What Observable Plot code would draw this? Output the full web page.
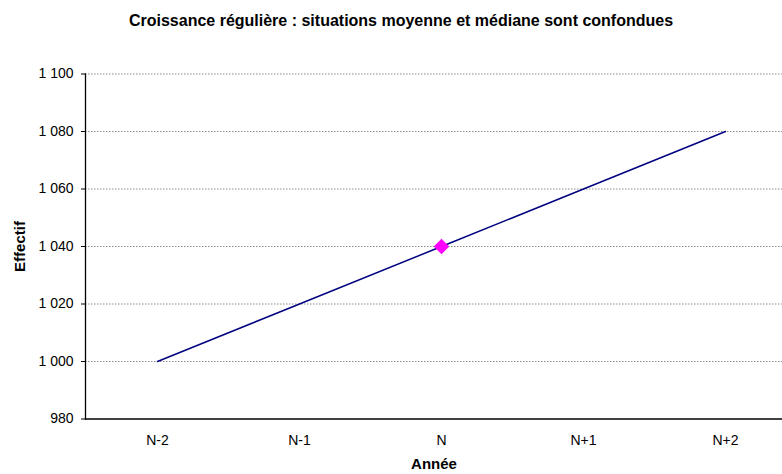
<!DOCTYPE html>
<html>
<head>
<meta charset="utf-8">
<script src="https://cdn.jsdelivr.net/npm/d3@7"></script>
<script src="https://cdn.jsdelivr.net/npm/@observablehq/plot@0.6"></script>
<style>
  html, body { margin: 0; padding: 0; background: #fff; }
  #wrap { position: relative; width: 782px; height: 474px; font-family: "Liberation Sans", Arial, sans-serif; }
  #title { position: absolute; left: 401px; top: 12px; transform: translateX(-50%); white-space: nowrap;
           font-weight: bold; font-size: 16px; color: #000; }
  #chart { position: absolute; left: 0; top: 0; }
</style>
</head>
<body>
<div id="wrap">
  <div id="title">Croissance régulière : situations moyenne et médiane sont confondues</div>
  <div id="chart"></div>
</div>
<script>
const years = ["N-2", "N-1", "N", "N+1", "N+2"];
const effectif = [1000, 1020, 1040, 1060, 1080];
const highlightYear = ["N"];
const highlightValue = [1040];
const yTicks = [980, 1000, 1020, 1040, 1060, 1080, 1100];
const gridTicks = [1000, 1020, 1040, 1060, 1080, 1100];

const series = years.map((y, i) => ({annee: y, effectif: effectif[i]}));
const highlight = highlightYear.map((y, i) => ({annee: y, effectif: highlightValue[i]}));
const fmt = d => d3.format(",")(d).replace(/,/g, "\u00a0");

const chart = Plot.plot({
  width: 782,
  height: 474,
  marginLeft: 85,
  marginRight: 0,
  marginTop: 73.5,
  marginBottom: 55.5,
  style: {fontFamily: '"Liberation Sans", Arial, sans-serif', fontSize: "14px", color: "#000", background: "transparent"},
  x: {type: "point", domain: years, range: [156, 725], padding: 0},
  y: {domain: [980, 1100]},
  marks: [
    Plot.ruleY(gridTicks, {stroke: "#8c8c8c", strokeDasharray: "1.5,1.5", strokeWidth: 1}),
    Plot.frame({anchor: "left", stroke: "#000", strokeWidth: 1.3}),
    Plot.frame({anchor: "bottom", stroke: "#000", strokeWidth: 1.3}),
    Plot.axisY({ticks: yTicks, tickFormat: fmt, tickSize: 4, tickPadding: 8, stroke: "#000",
      label: "Effectif", labelAnchor: "center", labelOffset: 71, labelArrow: "none", fontSize: 14}),
    Plot.axisX({tickSize: 0, tickPadding: 16, label: "Année", labelAnchor: "center", labelOffset: 50,
      labelArrow: "none", fontSize: 14}),
    Plot.line(series, {x: "annee", y: "effectif", stroke: "#000080", strokeWidth: 1.5}),
    Plot.dot(highlight, {x: "annee", y: "effectif", symbol: "diamond2", r: 7, fill: "#ff00ff", stroke: "none"})
  ]
});
d3.select(chart).selectAll("[aria-label$='axis label'] text, [aria-label$='axis label']")
  .style("font-weight", "bold").style("font-size", "15px");
document.getElementById("chart").appendChild(chart);
</script>
</body>
</html>
